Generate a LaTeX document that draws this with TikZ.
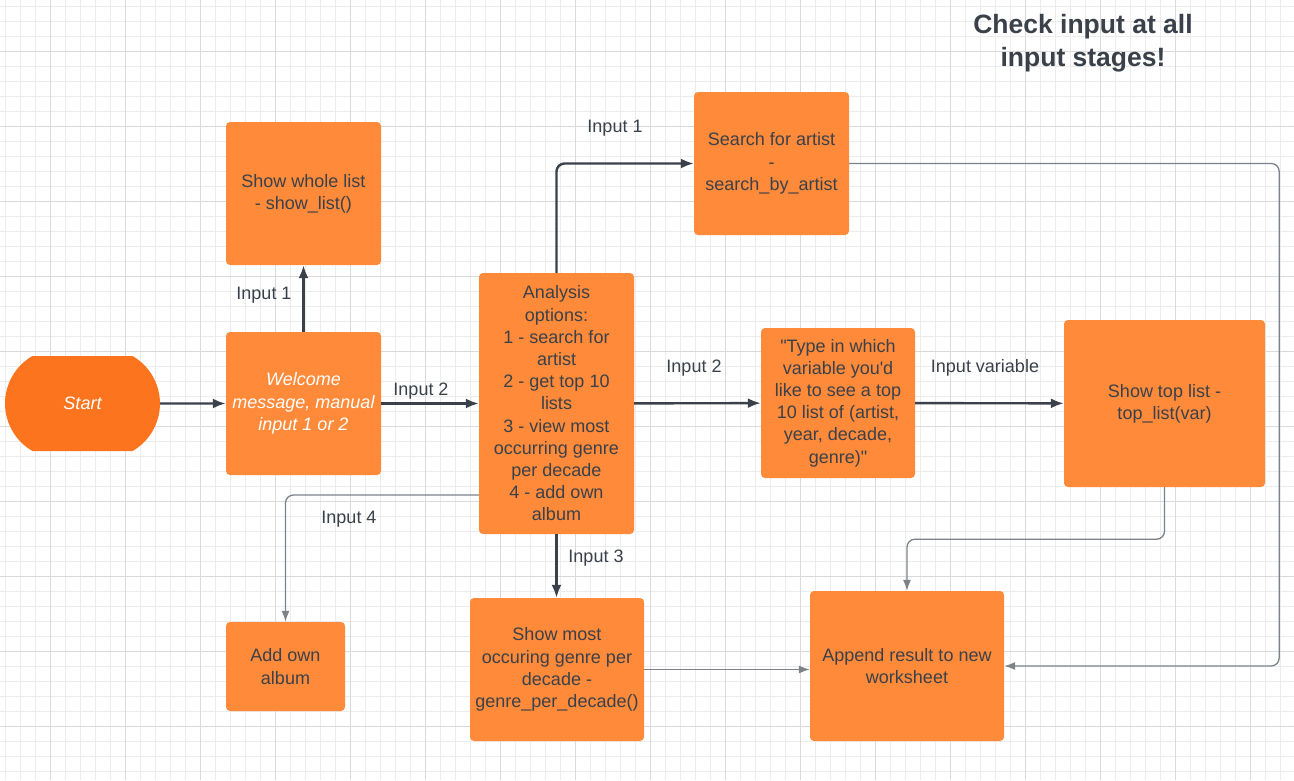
\documentclass[tikz,border=0pt]{standalone}
\usepackage{fontspec}
\setmainfont{Liberation Sans}
\usetikzlibrary{arrows.meta}
\usetikzlibrary{shapes.misc}
\definecolor{boxorange}{RGB}{255,138,58}
\definecolor{startorange}{RGB}{252,117,30}
\definecolor{inkgray}{RGB}{58,65,74}
\definecolor{thingray}{RGB}{125,130,137}
\definecolor{minorgrid}{RGB}{236,236,236}
\definecolor{majorgrid}{RGB}{218,218,218}
\tikzset{
    flowbox/.style={rectangle, rounded corners=4pt, fill=boxorange, text=inkgray, align=center,
        font=\fontsize{18}{22.2}\selectfont},
    boldline/.style={draw=inkgray, line width=2.4pt, -{Latex[length=13pt,width=10pt]}},
    thinline/.style={draw=thingray, line width=1.3pt, rounded corners=8pt, -{Latex[length=11pt,width=8pt]}},
    lbl/.style={text=inkgray, font=\fontsize{18}{22.2}\selectfont}
}

\begin{document}
\begin{tikzpicture}[x=1pt, y=-1pt]
        \useasboundingbox (0,0) rectangle (1294,780);
        \fill[white] (0,0) rectangle (1294,780);
        % background grid
        \foreach \x in {5.7,20.7,...,1294} \draw[minorgrid, line width=1.2pt] (\x,0) -- (\x,780);
        \foreach \y in {6.7,21.7,...,780} \draw[minorgrid, line width=1.2pt] (0,\y) -- (1294,\y);
        \foreach \x in {50.7,125.7,...,1294} \draw[majorgrid, line width=1.2pt] (\x,0) -- (\x,780);
        \foreach \y in {51.7,126.7,...,780} \draw[majorgrid, line width=1.2pt] (0,\y) -- (1294,\y);

        \node[rounded rectangle, rounded rectangle arc length=120, fill=startorange, text=white,
              minimum width=155pt, minimum height=95pt, inner sep=0pt,
              font=\fontsize{18}{22.2}\selectfont\itshape] (start) at (82.5,403.5) {Start};
        \node[flowbox, minimum width=155pt, minimum height=143pt, text=white, font=\fontsize{18}{22.2}\selectfont\itshape]
              (welcome) at (303.5,403.5) {Welcome\\message, manual\\input 1 or 2};
        \node[flowbox, minimum width=155pt, minimum height=143pt] (showlist) at (303.5,193.5) {Show whole list\\- show\_list()};
        \node[flowbox, minimum width=155pt, minimum height=261pt] (analysis) at (556.5,403.5)
              {Analysis\\options:\\1 - search for\\artist\\2 - get top 10\\lists\\3 - view most\\occurring genre\\per decade\\4 - add own\\album};
        \node[flowbox, minimum width=155pt, minimum height=143pt] (search) at (771.5,163.5) {Search for artist\\-\\search\_by\_artist};
        \node[flowbox, minimum width=154pt, minimum height=150pt] (typein) at (838,403)
              {\textquotedbl Type in which\\variable you\textquotesingle d\\like to see a top\\10 list of (artist,\\year, decade,\\genre)\textquotedbl};
        \node[flowbox, minimum width=201pt, minimum height=167pt] (toplist) at (1164.5,403.5) {Show top list -\\top\_list(var)};
        \node[flowbox, minimum width=119pt, minimum height=89pt] (addalbum) at (285.5,666.5) {Add own\\album};
        \node[flowbox, minimum width=174pt, minimum height=143pt] (genre) at (557,669.5)
              {Show most\\occuring genre per\\decade -\\genre\_per\_decade()};
        \node[flowbox, minimum width=194pt, minimum height=150pt] (append) at (907,666) {Append result to new\\worksheet};

        \node[text=inkgray, align=center, font=\fontsize{26.5}{33}\selectfont\bfseries] (note) at (1083,43)
              {Check input at all\\input stages!};

        % connectors
        \draw[boldline] (start) -- (welcome);
        \draw[boldline] (welcome) -- (showlist);
        \draw[boldline] (welcome) -- (analysis);
        \draw[boldline, rounded corners=8pt] (analysis.north) |- (search.west);
        \draw[boldline] (analysis) -- (typein);
        \draw[boldline] (typein) -- (toplist);
        \draw[boldline] (analysis.south) -- (genre.north -| analysis.south);
        \draw[thinline] ([yshift=-91.5pt]analysis.west) -| (addalbum.north);
        \draw[thinline] (search.east) -- ++(430,0) |- (append.east);
        \draw[thinline] (toplist.south) -- ++(0,52) -| (append.north);
        \draw[thinline] (genre.east) -- (genre.east -| append.west);

        % labels
        \node[lbl] (in1a) at (264,295) {Input 1};
        \node[lbl] (in2a) at (421,391) {Input 2};
        \node[lbl] (in1b) at (615,128) {Input 1};
        \node[lbl] (in2b) at (694,368) {Input 2};
        \node[lbl] (invar) at (985,368) {Input variable};
        \node[lbl] (in3) at (596,558) {Input 3};
        \node[lbl] (in4) at (349,519) {Input 4};
\end{tikzpicture}
\end{document}
